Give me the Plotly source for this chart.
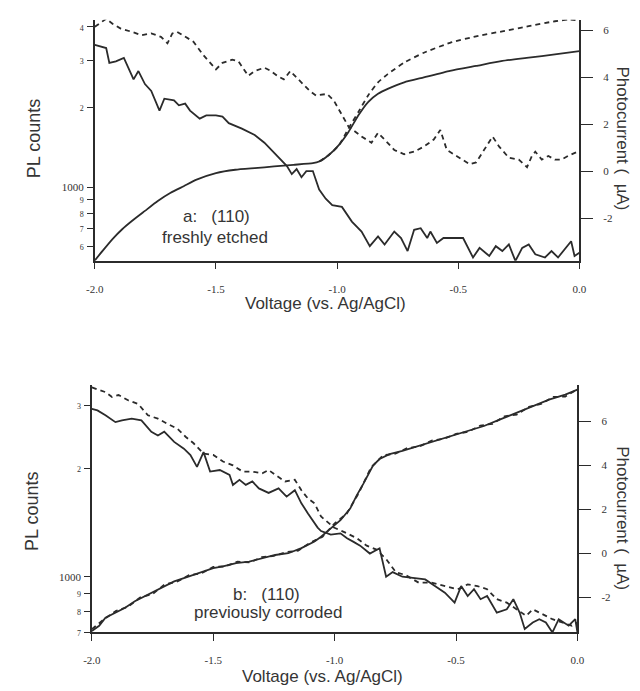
import plotly.graph_objects as go
import math

# ---------------- data ----------------
# Panel a: (110) freshly etched
a_pl_solid_v = [-2.0,-1.953,-1.94,-1.913,-1.88,-1.84,-1.82,-1.793,-1.767,-1.733,-1.713,-1.673,-1.653,-1.627,-1.607,-1.567,-1.54,-1.5,-1.473,-1.447,-1.393,-1.34,-1.3,-1.247,-1.207,-1.187,-1.167,-1.147,-1.127,-1.1,-1.074,-1.047,-1.02,-0.98,-0.939,-0.899,-0.865,-0.831,-0.804,-0.764,-0.736,-0.709,-0.682,-0.655,-0.628,-0.615,-0.588,-0.561,-0.48,-0.439,-0.412,-0.372,-0.345,-0.318,-0.291,-0.264,-0.236,-0.209,-0.182,-0.142,-0.115,-0.088,-0.047,-0.034,-0.02,0.0]
a_pl_solid = [3420,3330,2930,2970,3060,2540,2730,2440,2300,1940,2150,2120,2030,2060,1940,1810,1860,1860,1840,1740,1660,1570,1470,1310,1200,1120,1170,1090,1150,1150,980,906,856,844,743,682,601,654,610,682,645,576,692,702,645,682,618,645,645,545,592,552,601,576,610,529,592,610,560,545,576,545,610,627,552,568]

a_pl_dash_v = [-2.0,-1.953,-1.927,-1.893,-1.847,-1.807,-1.767,-1.727,-1.7,-1.68,-1.66,-1.627,-1.593,-1.553,-1.5,-1.473,-1.433,-1.407,-1.367,-1.34,-1.3,-1.273,-1.247,-1.22,-1.193,-1.167,-1.14,-1.113,-1.087,-1.041,-1.014,-0.98,-0.953,-0.926,-0.899,-0.858,-0.831,-0.804,-0.764,-0.723,-0.682,-0.642,-0.601,-0.574,-0.547,-0.507,-0.453,-0.426,-0.399,-0.358,-0.331,-0.291,-0.25,-0.216,-0.196,-0.182,-0.155,-0.128,-0.101,-0.074,-0.047,-0.007]
a_pl_dash = [4000,4290,4110,3940,3830,3720,3780,3670,3470,3780,3830,3670,3520,3140,2770,2930,3010,2970,2620,2730,2810,2730,2620,2540,2730,2580,2440,2300,2210,2240,2120,1860,1690,1620,1550,1470,1600,1510,1380,1330,1360,1420,1510,1640,1380,1310,1220,1240,1350,1550,1420,1290,1270,1190,1310,1360,1270,1310,1270,1270,1310,1360]

a_pc_solid_v = [-2.0,-1.967,-1.927,-1.887,-1.847,-1.793,-1.74,-1.687,-1.633,-1.58,-1.5,-1.42,-1.34,-1.26,-1.18,-1.1,-1.074,-1.034,-0.993,-0.953,-0.912,-0.872,-0.831,-0.791,-0.723,-0.642,-0.534,-0.426,-0.318,-0.209,-0.101,0.0]
a_pc_solid = [-3.79,-3.37,-2.88,-2.46,-2.11,-1.68,-1.26,-0.91,-0.63,-0.35,-0.07,0.07,0.14,0.21,0.28,0.35,0.42,0.70,1.12,1.68,2.39,2.95,3.30,3.51,3.79,4.0,4.28,4.49,4.70,4.84,4.98,5.12]

a_pc_dash_v = [-1.074,-1.034,-0.993,-0.953,-0.912,-0.872,-0.831,-0.791,-0.723,-0.642,-0.534,-0.426,-0.318,-0.209,-0.101,-0.047,0.0]
a_pc_dash = [0.42,0.70,1.10,1.82,2.53,3.23,3.79,4.14,4.63,5.05,5.47,5.75,5.96,6.18,6.39,6.46,6.43]

# Panel b: (110) previously corroded
b_pl_solid_v = [-2.0,-1.977,-1.944,-1.903,-1.876,-1.836,-1.796,-1.755,-1.728,-1.702,-1.661,-1.621,-1.594,-1.567,-1.54,-1.513,-1.473,-1.433,-1.419,-1.392,-1.366,-1.339,-1.312,-1.272,-1.231,-1.198,-1.164,-1.137,-1.11,-1.07,-1.056,-1.016,-0.976,-0.949,-0.922,-0.895,-0.855,-0.815,-0.788,-0.761,-0.721,-0.681,-0.627,-0.587,-0.546,-0.506,-0.479,-0.452,-0.426,-0.399,-0.372,-0.332,-0.291,-0.264,-0.238,-0.217,-0.184,-0.157,-0.13,-0.103,-0.077,-0.036,-0.009,0.0]
b_pl_solid = [2930,2900,2810,2690,2720,2750,2720,2530,2470,2530,2370,2270,2180,2020,2220,1960,1980,1920,1800,1860,1800,1840,1760,1710,1760,1670,1740,1600,1500,1370,1340,1310,1320,1280,1250,1220,1160,1200,1000,1030,1000,994,983,942,903,847,942,884,923,866,884,795,812,866,795,716,746,762,746,700,762,731,762,700]

b_pl_dash_v = [-2.0,-1.977,-1.944,-1.917,-1.89,-1.849,-1.809,-1.769,-1.728,-1.688,-1.648,-1.614,-1.581,-1.54,-1.5,-1.46,-1.419,-1.379,-1.339,-1.298,-1.272,-1.245,-1.204,-1.164,-1.137,-1.11,-1.083,-1.056,-1.003,-0.949,-0.909,-0.868,-0.828,-0.788,-0.748,-0.707,-0.654,-0.6,-0.546,-0.493,-0.452,-0.412,-0.372,-0.332,-0.291,-0.251,-0.211,-0.184,-0.144,-0.103,-0.063,-0.023,0.0]
b_pl_dash = [3360,3320,3260,3160,3200,3090,3020,2810,2750,2660,2580,2450,2350,2200,2180,2090,2040,1960,1960,1940,1980,1920,1840,1860,1740,1650,1600,1470,1370,1320,1280,1220,1190,1120,1030,1010,963,963,942,923,952,942,923,866,847,812,779,812,787,762,746,731,746]

b_pc_solid_v = [-2.0,-1.97,-1.944,-1.903,-1.863,-1.823,-1.782,-1.742,-1.702,-1.661,-1.621,-1.581,-1.54,-1.5,-1.46,-1.406,-1.352,-1.298,-1.245,-1.191,-1.137,-1.083,-1.056,-1.016,-0.976,-0.936,-0.909,-0.882,-0.842,-0.815,-0.774,-0.721,-0.654,-0.587,-0.519,-0.452,-0.385,-0.318,-0.251,-0.184,-0.117,-0.05,0.0]
b_pc_solid = [-3.53,-3.30,-2.93,-2.70,-2.48,-2.18,-1.95,-1.73,-1.50,-1.28,-1.13,-0.98,-0.83,-0.68,-0.60,-0.45,-0.38,-0.23,-0.08,0.0,0.23,0.53,0.75,1.13,1.50,2.03,2.63,3.15,3.98,4.28,4.50,4.65,4.88,5.11,5.33,5.56,5.78,6.08,6.38,6.68,6.98,7.21,7.43]

b_pc_dash_v = [-2.0,-1.95,-1.9,-1.85,-1.8,-1.75,-1.7,-1.65,-1.6,-1.55,-1.5,-1.45,-1.4,-1.35,-1.3,-1.25,-1.2,-1.15,-1.1,-1.05,-1.0,-0.95,-0.9,-0.85,-0.8,-0.75,-0.7,-0.65,-0.6,-0.55,-0.5,-0.45,-0.4,-0.35,-0.3,-0.25,-0.2,-0.15,-0.1,-0.05,0.0]
b_pc_dash = [-3.45,-3.0,-2.62,-2.42,-2.0,-1.85,-1.42,-1.30,-1.0,-0.92,-0.62,-0.60,-0.38,-0.42,-0.18,-0.12,0.05,0.12,0.48,0.75,1.35,1.80,2.75,3.90,4.45,4.52,4.78,4.85,5.12,5.20,5.42,5.52,5.80,5.88,6.22,6.30,6.65,6.78,7.10,7.12,7.45]

x_tickvals = [-2.0, -1.5, -1.0, -0.5, 0.0]
x_ticktext = ["-2.0", "-1.5", "-1.0", "-0.5", "0.0"]
a_pl_tickvals = [600, 700, 800, 900, 1000, 2000, 3000, 4000]
a_pl_ticktext = ["6", "7", "8", "9", "1000", "2", "3", "4"]
b_pl_tickvals = [700, 800, 900, 1000, 2000, 3000]
b_pl_ticktext = ["7", "8", "9", "1000", "2", "3"]
pc_tickvals = [-2, 0, 2, 4, 6]
pc_ticktext = ["-2", "0", "2", "4", "6"]

# ---------------- styling ----------------
W, H = 640, 691
INK = "#2b2b2b"
TXT = "#353535"
LW = 1.8
DASH = "5px,4px"
xtickfont = dict(family="Liberation Serif", size=11, color="#333")
ltickfont = dict(family="Liberation Serif", size=11, color="#333")
rtickfont = dict(family="Liberation Serif", size=11, color="#333")


def px_x(p):
    return p / W


def px_y(p):
    return 1 - p / H


def small(labels):
    return [t if t == "1000" else "<span style='font-size:8px'>%s</span>" % t for t in labels]


fig = go.Figure()


def line(xv, yv, xa, ya, dash=None, smooth=False):
    fig.add_trace(go.Scatter(
        x=xv, y=yv, xaxis=xa, yaxis=ya, mode="lines",
        line=dict(color=INK, width=LW, dash=dash,
                  shape="spline" if smooth else "linear",
                  smoothing=0.5 if smooth else None),
        showlegend=False, hoverinfo="skip"))


# panel a
line(a_pl_solid_v, a_pl_solid, "x", "y")
line(a_pl_dash_v, a_pl_dash, "x", "y", dash=DASH)
line(a_pc_solid_v, a_pc_solid, "x", "y2", smooth=True)
line(a_pc_dash_v, a_pc_dash, "x", "y2", dash=DASH, smooth=True)
# panel b
line(b_pl_solid_v, b_pl_solid, "x2", "y3")
line(b_pl_dash_v, b_pl_dash, "x2", "y3", dash=DASH)
line(b_pc_solid_v, b_pc_solid, "x2", "y4")
line(b_pc_dash_v, b_pc_dash, "x2", "y4", dash=DASH)

axcommon = dict(showgrid=False, zeroline=False, showline=True, linecolor=INK,
                linewidth=1.5, ticks="outside", tickcolor=INK, tickwidth=1.2,
                fixedrange=True)

xax = dict(range=[-2.0, 0.0], tickvals=x_tickvals, ticktext=x_ticktext, ticklen=7,
           tickfont=xtickfont, ticklabelstandoff=10, **axcommon)
rax = dict(side="right", tickvals=pc_tickvals, ticktext=pc_ticktext, ticklen=12,
           tickfont=rtickfont, ticklabelstandoff=8, **axcommon)
lax = dict(type="log", ticklen=6, tickfont=ltickfont, ticklabelstandoff=1, **axcommon)

fig.update_layout(
    width=W, height=H,
    margin=dict(l=0, r=0, t=0, b=0),
    paper_bgcolor="white", plot_bgcolor="white",
    xaxis=dict(domain=[px_x(88), px_x(585)], anchor="y", **xax),
    yaxis=dict(domain=[px_y(263), px_y(20)], anchor="x",
               range=[math.log10(530), math.log10(4250)],
               tickvals=a_pl_tickvals, ticktext=small(a_pl_ticktext), **lax),
    yaxis2=dict(overlaying="y", anchor="x", range=[-3.8, 6.45], **rax),
    xaxis2=dict(domain=[px_x(85), px_x(583)], anchor="y3", **xax),
    yaxis3=dict(domain=[px_y(638), px_y(388)], anchor="x2",
                range=[math.log10(700), math.log10(3420)],
                tickvals=b_pl_tickvals, ticktext=small(b_pl_ticktext), **lax),
    yaxis4=dict(overlaying="y3", anchor="x2", range=[-3.6, 7.66], **rax),
)


def note(text, x, y, angle=0, size=17):
    fig.add_annotation(text=text, x=px_x(x), y=px_y(y), xref="paper", yref="paper",
                       showarrow=False, textangle=angle,
                       font=dict(family="Liberation Sans", size=size, color=TXT),
                       xanchor="center", yanchor="middle")


# panel a texts
note("PL counts", 25, 140, angle=-90, size=18)
note("Photocurrent (  µA)", 629, 140, angle=90)
note("Voltage (vs. Ag/AgCl)", 325, 306)
note("a:   (110)", 213, 218)
note("freshly etched", 211, 240)
# panel b texts
note("PL counts", 23, 516, angle=-90, size=18)
note("Photocurrent (  µA)", 629, 523, angle=90)
note("Voltage (vs. Ag/AgCl)", 322, 682)
note("b:   (110)", 264, 600)
note("previously corroded", 266, 618)

fig.write_html("out.html")
